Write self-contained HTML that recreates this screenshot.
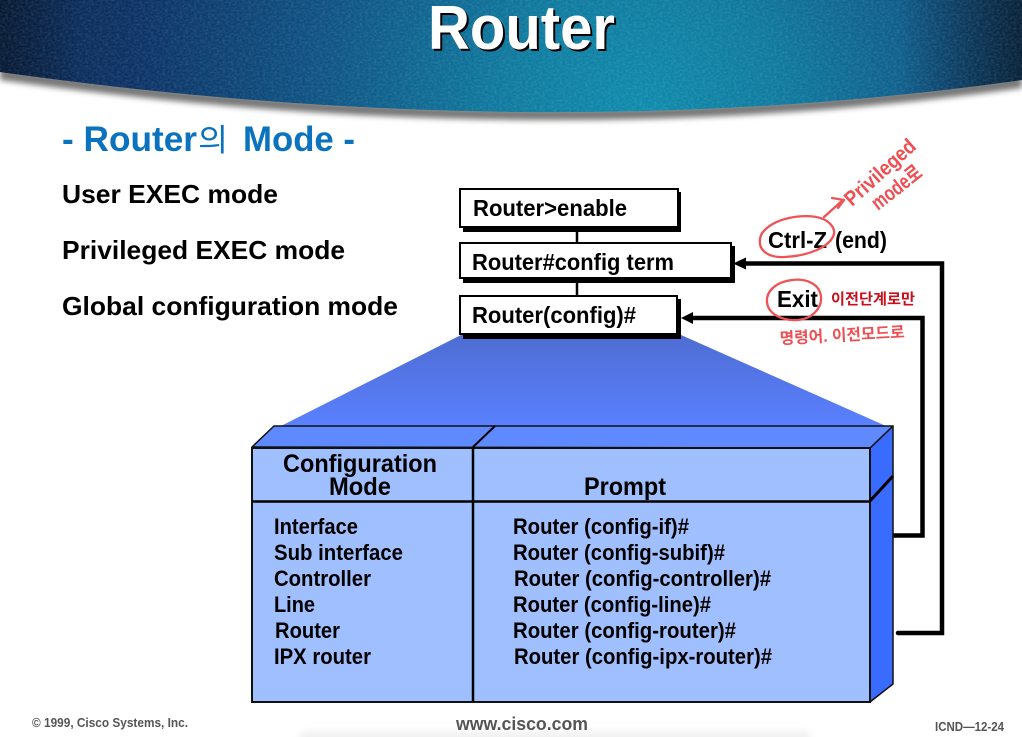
<!DOCTYPE html>
<html lang="ko"><head><meta charset="utf-8"><title>Router</title>
<style>html,body{margin:0;padding:0;background:#fff}svg{display:block}
text{font-family:"Liberation Sans","Noto Sans CJK KR",sans-serif;font-weight:bold;fill:#000}
.l{font-size:22px}.b{font-size:23px}.m{font-size:25px}
.h{font-weight:normal;fill:#ef4f52}
.f{fill:#555}
</style></head><body>
<svg width="1022" height="737" viewBox="0 0 1022 737" xmlns="http://www.w3.org/2000/svg">
<defs>
<radialGradient id="hd" gradientUnits="userSpaceOnUse" cx="640" cy="115" r="640">
<stop offset="0" stop-color="#0f8cad"/><stop offset=".22" stop-color="#0f7a9f"/><stop offset=".5" stop-color="#0f5485"/><stop offset=".8" stop-color="#0c3265"/><stop offset="1" stop-color="#0a2852"/>
</radialGradient>
<linearGradient id="tp" x1="0" y1="0" x2="0" y2="1"><stop offset="0" stop-color="#4e6dd2"/><stop offset="1" stop-color="#5a80ff"/></linearGradient>
<linearGradient id="ed" x1="0" y1="0" x2="1" y2="0"><stop offset=".88" stop-color="#0a1e30" stop-opacity="0"/><stop offset="1" stop-color="#061828" stop-opacity=".8"/></linearGradient>
<linearGradient id="ed2" x1="0" y1="0" x2="1" y2="0"><stop offset="0" stop-color="#061428" stop-opacity=".7"/><stop offset=".08" stop-color="#061428" stop-opacity="0"/></linearGradient>
<filter id="bl" x="-5%" y="-20%" width="110%" height="140%"><feGaussianBlur stdDeviation="3"/></filter>
<filter id="bl2" x="-5%" y="-200%" width="110%" height="500%"><feGaussianBlur stdDeviation="4"/></filter>
<filter id="nz" x="0" y="0" width="100%" height="100%"><feTurbulence type="fractalNoise" baseFrequency=".35 .5" numOctaves="2" seed="4"/><feColorMatrix values="0 0 0 0 1 0 0 0 0 1 0 0 0 0 1 .5 0 0 0 -.17"/></filter>
<clipPath id="hc"><path d="M0,0H1022V80Q540,148 0,72Z"/></clipPath>
</defs>
<rect x="300" y="732" width="510" height="12" fill="#efefef" filter="url(#bl2)"/>
<path d="M0,80Q540,156 1022,88V76Q540,146 0,68Z" fill="#777" filter="url(#bl)"/>
<path d="M0,0H1022V80Q540,148 0,72Z" fill="url(#hd)"/>
<path d="M0,0H1022V80Q540,148 0,72Z" fill="url(#ed)"/>
<path d="M0,0H1022V80Q540,148 0,72Z" fill="url(#ed2)"/>
<g clip-path="url(#hc)"><rect width="1022" height="115" filter="url(#nz)" opacity=".45"/></g>
<text x="430" y="51" font-size="62" textLength="187" lengthAdjust="spacingAndGlyphs" style="fill:#000">Router</text>
<text x="428" y="49" font-size="62" textLength="187" lengthAdjust="spacingAndGlyphs" style="fill:#fff">Router</text>

<text x="62" y="151" font-size="35" textLength="135" lengthAdjust="spacingAndGlyphs" style="fill:#0b72bd">- Router</text>
<text x="198" y="151" font-size="31" textLength="30" lengthAdjust="spacingAndGlyphs" style="fill:#0b72bd;font-weight:normal">의</text>
<text x="243" y="151" font-size="35" textLength="112" lengthAdjust="spacingAndGlyphs" style="fill:#0b72bd">Mode -</text>
<text x="62" y="203" font-size="26" textLength="216" lengthAdjust="spacingAndGlyphs">User EXEC mode</text>
<text x="62" y="259" font-size="26" textLength="283" lengthAdjust="spacingAndGlyphs">Privileged EXEC mode</text>
<text x="62" y="315" font-size="26" textLength="336" lengthAdjust="spacingAndGlyphs">Global configuration mode</text>

<polygon points="461,335 681,335 886,426 281,426" fill="url(#tp)"/>

<line x1="577" y1="228" x2="577" y2="296" stroke="#000" stroke-width="2.5"/>
<rect x="463" y="192" width="218" height="40" fill="#000"/>
<rect x="460" y="189" width="218" height="38" fill="#fff" stroke="#000" stroke-width="2"/>
<rect x="463" y="246" width="272" height="37" fill="#000"/>
<rect x="460" y="243" width="271" height="35" fill="#fff" stroke="#000" stroke-width="2"/>
<rect x="463" y="299" width="218" height="40" fill="#000"/>
<rect x="460" y="296" width="217" height="38" fill="#fff" stroke="#000" stroke-width="2"/>
<text x="473" y="216" class="b" textLength="154" lengthAdjust="spacingAndGlyphs">Router&gt;enable</text>
<text x="472" y="270" class="b" textLength="202" lengthAdjust="spacingAndGlyphs">Router#config term</text>
<text x="472" y="323" class="b" textLength="164" lengthAdjust="spacingAndGlyphs">Router(config)#</text>

<path d="M746,263.500H942V633H898" fill="none" stroke="#000" stroke-width="4.500" stroke-linecap="round"/>
<polygon points="733,263.500 746,257.500 746,269.500" fill="#000"/>
<path d="M693,318H922.500V535.500H893" fill="none" stroke="#000" stroke-width="4.500"/>
<polygon points="681,318 693,312 693,324" fill="#000"/>

<polygon points="870,448 893,426 893,684 870,702" fill="#3a6bff" stroke="#111" stroke-width="1.500" stroke-linejoin="round"/>
<polygon points="252,447 274,426 893,426 870,448" fill="#5f8aff" stroke="#111" stroke-width="1.500" stroke-linejoin="round"/>
<rect x="252" y="448" width="618" height="254" fill="#a0bfff" stroke="#111" stroke-width="2"/>
<line x1="252" y1="501.500" x2="870" y2="501.500" stroke="#000" stroke-width="2.500"/>
<line x1="473" y1="447" x2="473" y2="702" stroke="#000" stroke-width="2.500"/>
<line x1="473" y1="447" x2="495" y2="426" stroke="#000" stroke-width="2"/>
<line x1="870" y1="501" x2="893" y2="476" stroke="#000" stroke-width="3"/>

<text x="283" y="472" class="m" textLength="154" lengthAdjust="spacingAndGlyphs">Configuration</text>
<text x="329" y="495" class="m" textLength="62" lengthAdjust="spacingAndGlyphs">Mode</text>
<text x="584" y="495" class="m" textLength="82" lengthAdjust="spacingAndGlyphs">Prompt</text>

<text x="274" y="534" class="l" textLength="84" lengthAdjust="spacingAndGlyphs">Interface</text>
<text x="274" y="560" class="l" textLength="129" lengthAdjust="spacingAndGlyphs">Sub interface</text>
<text x="274" y="586" class="l" textLength="97" lengthAdjust="spacingAndGlyphs">Controller</text>
<text x="274" y="612" class="l" textLength="41" lengthAdjust="spacingAndGlyphs">Line</text>
<text x="275" y="638" class="l" textLength="65" lengthAdjust="spacingAndGlyphs">Router</text>
<text x="274" y="664" class="l" textLength="97" lengthAdjust="spacingAndGlyphs">IPX router</text>
<text x="513" y="534" class="l" textLength="176" lengthAdjust="spacingAndGlyphs">Router (config-if)#</text>
<text x="513" y="560" class="l" textLength="212" lengthAdjust="spacingAndGlyphs">Router (config-subif)#</text>
<text x="514" y="586" class="l" textLength="257" lengthAdjust="spacingAndGlyphs">Router (config-controller)#</text>
<text x="513" y="612" class="l" textLength="198" lengthAdjust="spacingAndGlyphs">Router (config-line)#</text>
<text x="513" y="638" class="l" textLength="223" lengthAdjust="spacingAndGlyphs">Router (config-router)#</text>
<text x="514" y="664" class="l" textLength="258" lengthAdjust="spacingAndGlyphs">Router (config-ipx-router)#</text>

<text x="768" y="248" class="b" textLength="59" lengthAdjust="spacingAndGlyphs">Ctrl-Z</text>
<text x="835" y="248" class="b" textLength="52" lengthAdjust="spacingAndGlyphs">(end)</text>
<text x="777" y="307" class="b" textLength="41" lengthAdjust="spacingAndGlyphs">Exit</text>

<g fill="none" stroke="#ef5356" stroke-width="2.300" stroke-linecap="round" stroke-linejoin="round">
<path d="M823,219C806,212 770,218 761,235C756,250 768,258 785,257C806,256 830,248 834,234C835,228 830,222 823,219Z"/>
<path d="M824,217L843,200M832,198L844,200L838,208"/>
<path d="M792,280C775,282 766,292 767,302C768,314 782,321 798,320C812,319 822,308 821,297C820,285 808,278 792,280Z"/>
</g>
<text class="h" transform="translate(852,207) rotate(-42)" font-size="21" textLength="88" lengthAdjust="spacingAndGlyphs" style="font-weight:bold">Privileged</text>
<text class="h" transform="translate(878,211) rotate(-38)" font-size="21" textLength="58" lengthAdjust="spacingAndGlyphs" style="font-weight:bold">mode로</text>
<text x="831" y="304" font-size="15" textLength="84" lengthAdjust="spacingAndGlyphs" style="fill:#c8101c">이전단계로만</text>
<text transform="translate(780,344) rotate(-3)" class="h" font-size="16" textLength="125" lengthAdjust="spacingAndGlyphs" style="font-weight:bold">명령어. 이전모드로</text>

<text x="32" y="727" class="f" font-size="12.500" textLength="156" lengthAdjust="spacingAndGlyphs">© 1999, Cisco Systems, Inc.</text>
<text x="456" y="730" class="f" font-size="18" textLength="132" lengthAdjust="spacingAndGlyphs">www.cisco.com</text>
<text x="935" y="731" class="f" font-size="12.500" textLength="69" lengthAdjust="spacingAndGlyphs">ICND—12-24</text>
</svg>
</body></html>
